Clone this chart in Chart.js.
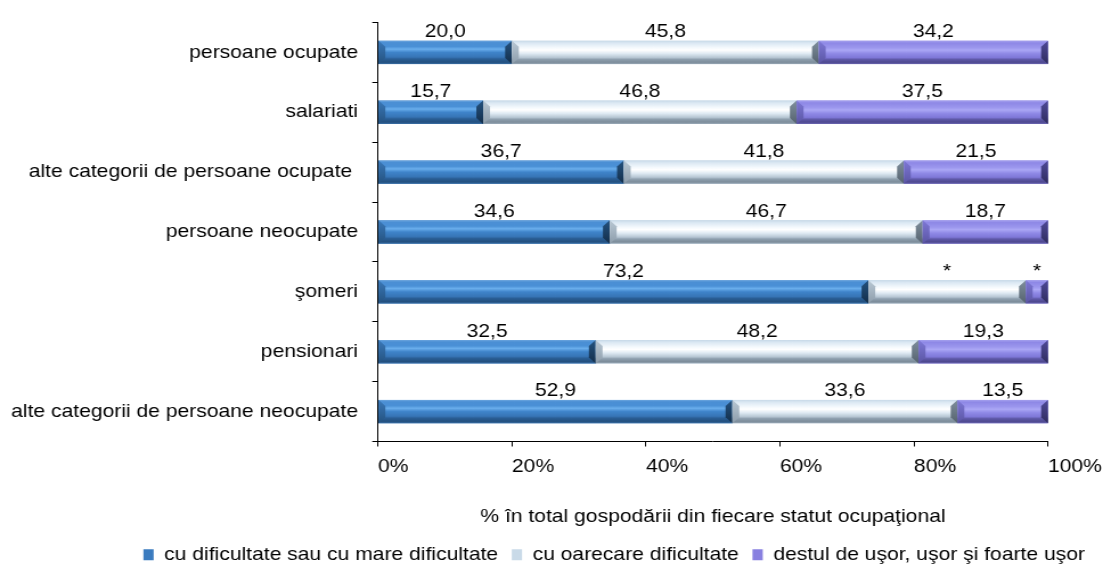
<!DOCTYPE html>
<html>
<head>
<meta charset="utf-8">
<script src="https://cdn.jsdelivr.net/npm/chart.js@4.4.1/dist/chart.umd.min.js"></script>
<style>
  html, body { margin: 0; padding: 0; background: #fff; }
</style>
</head>
<body>
<!-- the source picture is stretched sideways, so the canvas is drawn narrower and widened by css -->
<canvas id="chart" width="968" height="570" style="display:block;width:1103px;height:570px"></canvas>
<script>
const categories = [
  "persoane ocupate",
  "salariati",
  "alte categorii de persoane ocupate ",
  "persoane neocupate",
  "şomeri",
  "pensionari",
  "alte categorii de persoane neocupate"
];
const seriesNames = [
  "cu dificultate sau cu mare dificultate",
  "cu oarecare dificultate",
  "destul de uşor, uşor şi foarte uşor"
];
const greuValues = [20.0, 15.7, 36.7, 34.6, 73.2, 32.5, 52.9];
const oarecareValues = [45.8, 46.8, 41.8, 46.7, 23.5, 48.2, 33.6];
const usorValues = [34.2, 37.5, 21.5, 18.7, 3.3, 19.3, 13.5];
// categories whose value is shown only as "*" (too few cases)
const greuStarred = [];
const oarecareStarred = [4];
const usorStarred = [4];
const xTicks = [0, 20, 40, 60, 80, 100];
const xTitle = "% în total gospodării din fiecare statut ocupaţional";

const FONT = '"Liberation Sans", Arial, sans-serif';
const FS = 18.5;
const PAD_L = 110;

const starred = [greuStarred, oarecareStarred, usorStarred];
const baseColors = ["#3a7bbf", "#c9dae8", "#8880e0"];
const shades = [
  {
    body: [[0, "#6ea7df"], [0.08, "#4b8fd4"], [0.25, "#4a90d6"], [0.36, "#6aaeec"], [0.5, "#3f84ca"],
           [0.7, "#3775b6"], [0.78, "#2a5e95"], [0.92, "#23507f"], [1, "#3a6fa5"]],
    left: ["#3a78b8", "#24527f"], right: ["#24527f", "#132e4a"]
  },
  {
    body: [[0, "#c7d9e8"], [0.1, "#dbe8f3"], [0.3, "#f4f9fd"], [0.4, "#ffffff"], [0.55, "#dfeaf3"],
           [0.72, "#b6c6d3"], [0.8, "#8e9fae"], [0.92, "#7d8d9b"], [1, "#98a8b6"]],
    left: ["#b9c8d4", "#8d9dab"], right: ["#7f8f9d", "#55626e"]
  },
  {
    body: [[0, "#a5a1ee"], [0.1, "#8e88e6"], [0.3, "#9c97ee"], [0.4, "#aba7f5"], [0.55, "#8f89e6"],
           [0.72, "#7f78d8"], [0.8, "#5f59a8"], [0.92, "#4e4990"], [1, "#6a65b0"]],
    left: ["#7e78d6", "#5a55a3"], right: ["#4f4a98", "#2f2c5e"]
  }
];

function fmt(v) {
  return v.toFixed(1).replace(".", ",");
}

function barBox(bar) {
  const p = bar.getProps(["x", "y", "base", "height"], true);
  return {
    l: Math.min(p.x, p.base), r: Math.max(p.x, p.base),
    t: p.y - p.height / 2, b: p.y + p.height / 2
  };
}

function vgrad(ctx, t, b, stops) {
  const g = ctx.createLinearGradient(0, t, 0, b);
  if (typeof stops[0] === "string") {
    g.addColorStop(0, stops[0]);
    g.addColorStop(1, stops[1]);
  } else {
    stops.forEach(s => g.addColorStop(s[0], s[1]));
  }
  return g;
}

// bevelled look of the excel bars, drawn over the library's bars
const bevel = {
  id: "bevel",
  afterDatasetsDraw(chart) {
    const ctx = chart.ctx;
    ctx.save();
    chart.data.datasets.forEach((ds, i) => {
      const sh = shades[i];
      chart.getDatasetMeta(i).data.forEach(bar => {
        const {l, r, t, b} = barBox(bar);
        if (r - l < 0.5) return;
        const e = Math.min(6, (r - l) / 2);
        ctx.fillStyle = vgrad(ctx, t, b, sh.body);
        ctx.fillRect(l, t, r - l, b - t);
        ctx.fillStyle = vgrad(ctx, t, b, sh.left);
        ctx.beginPath();
        ctx.moveTo(l, t); ctx.lineTo(l + e, t + e); ctx.lineTo(l + e, b - e); ctx.lineTo(l, b);
        ctx.closePath(); ctx.fill();
        ctx.fillStyle = vgrad(ctx, t, b, sh.right);
        ctx.beginPath();
        ctx.moveTo(r, t); ctx.lineTo(r - e, t + e); ctx.lineTo(r - e, b - e); ctx.lineTo(r, b);
        ctx.closePath(); ctx.fill();
      });
    });
    ctx.restore();
  }
};

const valueLabels = {
  id: "valueLabels",
  afterDatasetsDraw(chart) {
    const ctx = chart.ctx;
    ctx.save();
    ctx.font = FS + "px " + FONT;
    ctx.fillStyle = "#000";
    ctx.textAlign = "center";
    ctx.textBaseline = "alphabetic";
    chart.data.datasets.forEach((ds, i) => {
      chart.getDatasetMeta(i).data.forEach((bar, j) => {
        const {l, r, t} = barBox(bar);
        const txt = starred[i].includes(j) ? "*" : fmt(ds.data[j]);
        ctx.fillText(txt, (l + r) / 2, t - 3.5);
      });
    });
    ctx.restore();
  }
};

// category names reach further left than the axis box (chart.js would clip them)
const categoryLabels = {
  id: "categoryLabels",
  afterDraw(chart) {
    const ctx = chart.ctx;
    const s = chart.scales.y;
    ctx.save();
    ctx.font = FS + "px " + FONT;
    ctx.fillStyle = "#000";
    ctx.textAlign = "right";
    ctx.textBaseline = "middle";
    chart.data.labels.forEach((c, i) => {
      ctx.fillText(c, s.right - 17.5, s.getPixelForValue(i));
    });
    ctx.restore();
  }
};

Chart.defaults.font.family = FONT;
Chart.defaults.font.size = FS;
Chart.defaults.color = "#000";

new Chart(document.getElementById("chart"), {
  type: "bar",
  data: {
    labels: categories,
    datasets: [
      { label: seriesNames[0], data: greuValues, backgroundColor: baseColors[0] },
      { label: seriesNames[1], data: oarecareValues, backgroundColor: baseColors[1] },
      { label: seriesNames[2], data: usorValues, backgroundColor: baseColors[2] }
    ]
  },
  options: {
    indexAxis: "y",
    responsive: false,
    animation: false,
    devicePixelRatio: 1,
    layout: { padding: { top: 22.5, left: PAD_L, right: 0, bottom: -4 } },
    datasets: { bar: { categoryPercentage: 1, barPercentage: 0.39, borderWidth: 0 } },
    scales: {
      x: {
        stacked: true,
        min: 0,
        max: 100,
        afterBuildTicks: s => { s.ticks = xTicks.map(v => ({ value: v })); },
        ticks: { align: "start", padding: 9, callback: v => v + "%" },
        grid: { drawOnChartArea: false, tickLength: 5, color: "#000" },
        border: { color: "#000" },
        title: { display: true, text: xTitle, padding: { top: 0, bottom: 5 } },
        afterFit: s => { s.height = 92; s.paddingRight = 48.3; s.paddingLeft = 0; }
      },
      y: {
        stacked: true,
        ticks: { display: false },
        grid: { drawOnChartArea: false, tickLength: 5, color: "#000" },
        border: { color: "#000" },
        afterFit: s => { s.width = 331.7 - PAD_L; s.paddingTop = 0; s.paddingBottom = 0; }
      }
    },
    plugins: {
      legend: {
        position: "bottom",
        labels: { boxWidth: 9, boxHeight: 11, padding: 12 }
      },
      tooltip: { enabled: false }
    }
  },
  plugins: [bevel, valueLabels, categoryLabels]
});
</script>
</body>
</html>
